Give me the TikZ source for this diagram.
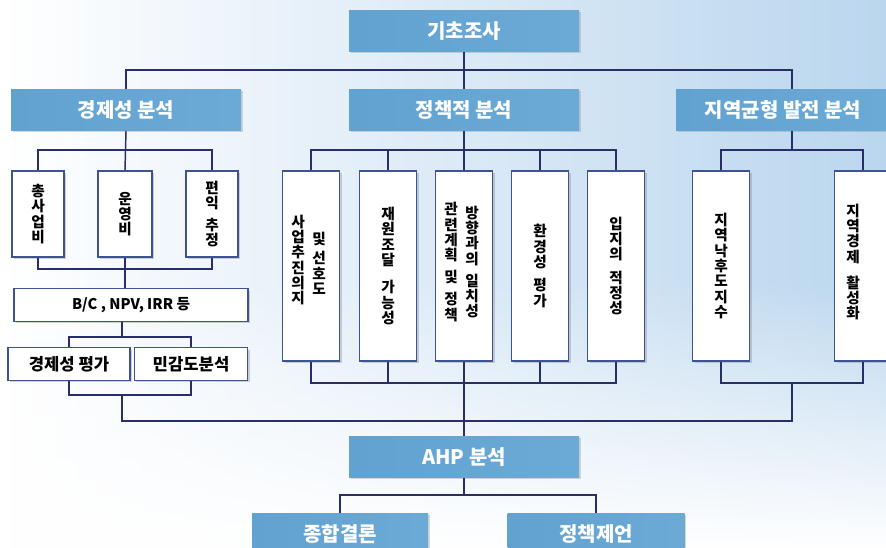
\documentclass[tikz,border=0pt]{standalone}
\usepackage{fontspec}
\setmainfont{Noto Sans CJK KR}
\usetikzlibrary{positioning, shadows, fadings}
\definecolor{cHeadA}{RGB}{72,143,196}
\definecolor{cHeadB}{RGB}{108,170,214}
\definecolor{cEdge}{RGB}{62,84,146}
\definecolor{cLine}{RGB}{42,46,104}
\definecolor{cSky}{RGB}{186,214,238}
\tikzfading[name=skyfade, top color=transparent!100, bottom color=transparent!0]
\tikzset{
	hdr/.style ={rectangle, minimum width=172.5pt, minimum height=31pt, inner sep=0pt, left color=cHeadB!70!cHeadA, middle color=cHeadA, right color=cHeadB, text=white, font=\fontsize{15}{18}\selectfont\bfseries, drop shadow={shadow xshift=1.2pt, shadow yshift=-1.2pt, opacity=0.3}},
	blk/.style ={rectangle, draw=cEdge, line width=1.1pt, fill=white, inner sep=0pt, align=center, drop shadow={shadow xshift=1.5pt, shadow yshift=-1.5pt, opacity=0.35}},
	vblk/.style={blk, minimum width=42.75pt, minimum height=142.5pt, font=\fontsize{11}{11.5}\selectfont\bfseries},
	cblk/.style={blk, minimum width=39pt, minimum height=64.5pt, font=\fontsize{11}{11.5}\selectfont\bfseries},
	hblk/.style={blk, minimum height=24.5pt, font=\fontsize{12.5}{15}\selectfont\bfseries},
	vtxt/.style={inner sep=0pt, align=center, font=\fontsize{11}{11.5}\selectfont\bfseries},
	link/.style={draw=cLine, line width=1.1pt},
}
\begin{document}
\begin{tikzpicture}[x=0.75pt, y=-0.75pt]
	\clip (0,0) rectangle (886,548);
	% sky behind the chart
	\shade[left color=white, middle color=white, right color=cSky] (0,0) rectangle (886,548);
	\fill[white, path fading=skyfade] (0,280) rectangle (886,548);

	% header boxes
	\node[hdr] (base) at (464,31) {기초조사};
	\node[hdr] (econ) at (126,110) {경제성 분석};
	\node[hdr] (policy) at (464,110) {정책적 분석};
	\node[hdr, minimum width=160.5pt] (region) at (783,110) {지역균형 발전 분석};
	\node[hdr] (ahp) at (464,457) {AHP 분석};
	\node[hdr, minimum width=132pt] (concl) at (340,534) {종합결론};
	\node[hdr, minimum width=132.75pt] (propose) at (596,534) {정책제언};

	% economic analysis
	\node[cblk] (cost) at (38,214) {총\\사\\업\\비};
	\node[cblk, minimum width=40.5pt] (oper) at (125,214) {운\\영\\비};
	\node[cblk] (benefit) at (212,214) {편\\익\\[5pt]추\\정};
	\node[hblk, minimum width=175.5pt, font=\fontsize{11}{13}\selectfont\bfseries] (bc) at (131,305) {B/C , NPV, IRR 등};
	\node[hblk, minimum width=91.5pt] (evalE) at (69,364) {경제성 평가};
	\node[hblk, minimum width=85pt] (sens) at (191,364) {민감도분석};

	% policy analysis
	\node[vblk] (p1) at (311,266) {};
	\node[vtxt] (p1a) at ([xshift=-9.75pt, yshift=4.5pt]p1.center) {사\\업\\추\\진\\의\\지};
	\node[vtxt] (p1b) at ([xshift=6pt, yshift=2pt]p1.center) {및\\[3pt]선\\호\\도};
	\node[vblk] (p2) at (388,266) {재\\원\\조\\달\\[9pt]가\\능\\성};
	\node[vblk] (p3) at (464,266) {};
	\node[vtxt] (p3a) at ([xshift=-9.75pt, yshift=3pt]p3.center) {관\\련\\계\\획\\[5pt]및\\[5pt]정\\책};
	\node[vtxt] (p3b) at ([xshift=6pt, yshift=3pt]p3.center) {방\\향\\과\\의\\[5pt]일\\치\\성};
	\node[vblk] (p4) at (540,266) {환\\경\\성\\[6pt]평\\가};
	\node[vblk] (p5) at (616,266) {입\\지\\의\\[6pt]적\\정\\성};

	% regional balance
	\node[vblk] (r1) at (721,266) {지\\역\\낙\\후\\도\\지\\수};
	\node[vblk] (r2) at (863,266) {};
	\node[vtxt] (r2a) at ([xshift=-7.5pt, yshift=3pt]r2.center) {지\\역\\경\\제\\[8pt]활\\성\\화};

	% bus points
	\coordinate (topbus) at (464,70);
	\coordinate (ebus) at (125,150);
	\coordinate (ebus2) at (125,269);
	\coordinate (ebus3) at (122,337);
	\coordinate (ebus4) at (122,395);
	\coordinate (pbus) at (464,150);
	\coordinate (pbus2) at (464,383);
	\coordinate (rbus) at (792,150);
	\coordinate (rbus2) at (792,383);
	\coordinate (lowbus) at (792,421);
	\coordinate (bbus) at (464,495);

	% connectors
	\draw[link] (base.south) -- (policy.north);
	\draw[link] (econ.north) |- (topbus) -| (region.north -| rbus);
	\draw[link] (econ.south) -- (oper.north);
	\draw[link] (cost.north) |- (ebus) -| (benefit.north);
	\draw[link] (cost.south) |- (ebus2) -| (benefit.south);
	\draw[link] (oper.south) -- (oper.south |- bc.north);
	\draw[link] (ebus3 |- bc.south) -- (ebus3);
	\draw[link] (evalE.north) |- (ebus3) -| (sens.north);
	\draw[link] (evalE.south) |- (ebus4) -| (sens.south);
	\draw[link] (ebus4) |- (lowbus) -- (rbus2);
	\draw[link] (policy.south) -- (p3.north);
	\draw[link] (p1.north) |- (pbus) -| (p5.north);
	\draw[link] (p2.north) -- (p2.north |- pbus);
	\draw[link] (p4.north) -- (p4.north |- pbus);
	\draw[link] (p1.south) |- (pbus2) -| (p5.south);
	\draw[link] (p2.south) -- (p2.south |- pbus2);
	\draw[link] (p4.south) -- (p4.south |- pbus2);
	\draw[link] (p3.south) -- (ahp.north);
	\draw[link] (region.south -| rbus) -- (rbus);
	\draw[link] (r1.north) |- (rbus) -| (r2.north);
	\draw[link] (r1.south) |- (rbus2) -| (r2.south);
	\draw[link] (ahp.south) -- (bbus);
	\draw[link] (concl.north) |- (bbus) -| (propose.north);
\end{tikzpicture}
\end{document}
